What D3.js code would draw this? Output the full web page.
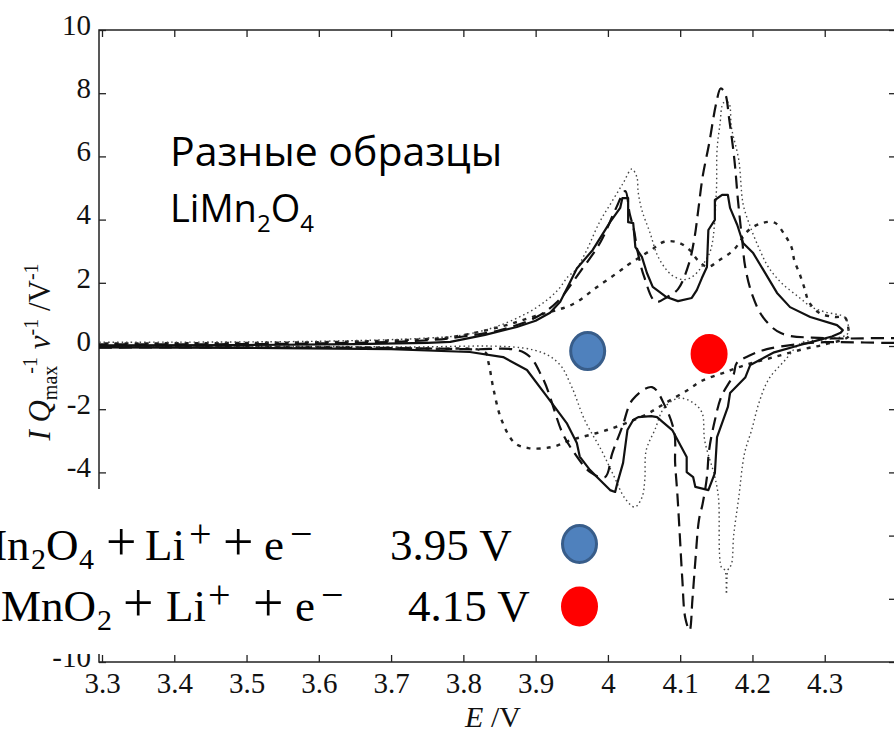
<!DOCTYPE html>
<html>
<head>
<meta charset="utf-8">
<script src="https://d3js.org/d3.v7.min.js"></script>
<style>
  body { margin: 0; background: #fff; }
  svg { display: block; }
  .tick text { font-family: "Liberation Serif", "Times New Roman", serif; font-size: 29px; fill: #111; }
  .tick line { stroke: #222; stroke-width: 1.3px; }
</style>
</head>
<body>
<script>
// tick values and labels (-6 and -8 sit under the reaction panel, so no label)
var xTicks = [3.3, 3.4, 3.5, 3.6, 3.7, 3.8, 3.9, 4.0, 4.1, 4.2, 4.3];
var xTickLabels = ["3.3", "3.4", "3.5", "3.6", "3.7", "3.8", "3.9", "4", "4.1", "4.2", "4.3"];
var yTicks = [-10, -8, -6, -4, -2, 0, 2, 4, 6, 8, 10];
var yTickLabels = ["-10", "", "", "-4", "-2", "0", "2", "4", "6", "8", "10"];

// CV loops, [E (V), I Qmax^-1 v^-1 (V^-1)], anodic branch then cathodic branch
var solid = [
  [3.29,0.02],[3.5,0.03],[3.65,0.06],[3.75,0.1],[3.782,0.13],[3.83,0.35],[3.874,0.6],[3.9,0.8],
  [3.92,1.05],[3.934,1.4],[3.945,1.9],[3.957,2.45],[3.979,3.04],[4.003,3.92],[4.017,4.37],[4.02,4.68],
  [4.028,4.68],[4.028,3.92],[4.035,3.89],[4.038,3.13],[4.047,2.82],[4.054,2.31],[4.062,1.87],[4.081,1.55],
  [4.097,1.42],[4.116,1.52],[4.123,1.77],[4.13,2.15],[4.137,2.5],[4.139,3.67],[4.148,3.99],[4.148,4.62],
  [4.158,4.78],[4.166,4.78],[4.169,4.37],[4.179,3.83],[4.187,3.26],[4.201,2.94],[4.215,2.41],[4.234,1.68],
  [4.252,1.23],[4.28,0.92],[4.317,0.66],[4.325,0.5],
  [4.322,0.42],[4.31,0.3],[4.29,0.18],[4.266,0.03],[4.23,-0.2],[4.197,-0.6],[4.19,-1.0],[4.169,-1.49],
  [4.166,-1.93],[4.151,-2.88],[4.148,-4.02],[4.139,-4.56],[4.121,-4.46],[4.118,-4.15],[4.109,-3.99],
  [4.109,-3.51],[4.089,-2.66],[4.076,-2.41],[4.068,-2.25],[4.06,-2.22],[4.042,-2.25],[4.035,-2.34],
  [4.027,-2.66],[4.021,-3.7],[4.013,-4.34],[4.01,-4.62],[4.003,-4.56],[3.989,-4.24],[3.975,-3.92],
  [3.961,-3.5],[3.957,-3.07],[3.943,-2.44],[3.916,-1.61],[3.888,-0.76],[3.855,-0.35],[3.809,-0.19],
  [3.7,-0.1],[3.5,-0.06],[3.29,-0.04]
];
var longDash = [
  [3.29,0.05],[3.6,0.08],[3.75,0.18],[3.8,0.3],[3.85,0.5],[3.9,0.9],[3.93,1.4],[3.96,2.3],[3.99,3.3],
  [4.01,4.3],[4.024,4.9],[4.03,4.2],[4.036,3.67],[4.041,3.0],[4.05,2.2],[4.066,1.4],[4.082,1.55],
  [4.097,1.8],[4.112,2.6],[4.12,3.45],[4.125,4.3],[4.131,5.35],[4.14,6.4],[4.15,7.7],[4.156,8.15],
  [4.162,8.0],[4.168,7.15],[4.175,5.9],[4.18,4.6],[4.186,3.3],[4.19,2.5],[4.2,1.6],[4.215,0.9],
  [4.24,0.4],[4.3,0.25],[4.42,0.2],
  [4.42,0.15],[4.3,0.12],[4.26,0.05],[4.22,-0.1],[4.196,-0.3],[4.178,-0.55],[4.174,-0.9],[4.157,-1.6],
  [4.148,-2.35],[4.14,-3.3],[4.137,-4.15],[4.131,-5.0],[4.126,-5.5],[4.121,-6.8],[4.117,-8.0],
  [4.113,-9.0],[4.107,-8.6],[4.103,-7.4],[4.099,-5.8],[4.096,-4.65],[4.093,-3.7],[4.092,-2.75],
  [4.079,-1.9],[4.061,-1.3],[4.034,-1.7],[4.02,-2.55],[4.006,-3.4],[3.996,-4.15],[3.976,-4.0],
  [3.951,-3.3],[3.937,-2.75],[3.909,-0.98],[3.885,-0.22],[3.8,-0.1],[3.29,-0.05]
];
var dotted = [
  [3.29,0.12],[3.6,0.15],[3.75,0.25],[3.8,0.35],[3.85,0.65],[3.9,1.2],[3.93,1.75],[3.945,2.2],
  [3.955,2.4],[3.97,3.0],[3.988,3.9],[4.005,4.55],[4.021,5.15],[4.033,5.6],[4.04,5.35],[4.042,4.85],
  [4.047,4.3],[4.058,3.6],[4.07,2.8],[4.088,2.25],[4.106,2.1],[4.12,2.25],[4.135,2.7],[4.143,3.1],
  [4.15,4.85],[4.151,6.2],[4.155,7.0],[4.16,7.7],[4.167,7.7],[4.171,6.9],[4.181,5.9],[4.187,4.5],
  [4.195,3.9],[4.209,3.1],[4.222,2.5],[4.24,2.0],[4.264,1.55],[4.282,1.23],[4.3,1.08],[4.328,0.9],
  [4.333,0.5],
  [4.33,0.35],[4.3,0.2],[4.268,0.1],[4.245,-0.45],[4.222,-1.07],[4.209,-1.8],[4.199,-2.65],
  [4.189,-3.4],[4.181,-4.8],[4.174,-6.0],[4.171,-6.9],[4.166,-7.1],[4.164,-7.85],[4.162,-7.1],
  [4.157,-7.0],[4.153,-4.8],[4.148,-4.15],[4.134,-3.0],[4.13,-2.1],[4.116,-1.77],[4.098,-1.65],
  [4.078,-1.95],[4.065,-2.65],[4.053,-3.3],[4.051,-4.25],[4.047,-4.8],[4.037,-5.1],[4.023,-4.8],
  [4.009,-4.15],[3.991,-3.3],[3.968,-2.35],[3.95,-1.3],[3.932,-0.55],[3.898,-0.13],[3.7,-0.03],[3.29,0.0]
];
var shortDash = [
  [3.29,0.08],[3.6,0.12],[3.75,0.22],[3.783,0.28],[3.85,0.6],[3.9,0.95],[3.952,1.33],[3.984,1.85],
  [4.015,2.35],[4.03,2.6],[4.06,3.04],[4.078,3.3],[4.098,3.27],[4.113,3.04],[4.125,2.7],[4.138,2.5],
  [4.153,2.7],[4.174,3.04],[4.195,3.67],[4.215,3.9],[4.231,3.9],[4.245,3.5],[4.254,3.13],[4.258,2.7],
  [4.265,2.3],[4.272,1.83],[4.278,1.4],[4.293,1.04],[4.314,0.92],[4.328,0.9],[4.333,0.5],
  [4.333,0.3],[4.3,0.05],[4.27,-0.1],[4.23,-0.35],[4.19,-0.6],[4.16,-0.85],[4.13,-1.1],[4.11,-1.4],
  [4.08,-1.8],[4.05,-2.2],[4.0,-2.65],[3.95,-2.97],[3.922,-3.2],[3.89,-3.23],[3.871,-3.07],
  [3.853,-2.35],[3.842,-1.4],[3.835,-0.55],[3.83,-0.2],[3.75,-0.08],[3.29,-0.02]
];

// marked potentials inside the plot: [E, I]
var markers = [[3.972, -0.16], [4.14, -0.25]];
var markerColors = ["#4f81bd", "#ff0000"];
var markerStrokes = ["#385d8a", "#ff0000"];

var W = 894, H = 733;
var svg = d3.select("body").append("svg").attr("width", W).attr("height", H);

var x = d3.scaleLinear().domain([3.3, 4.4]).range([102, 897]);
var y = d3.scaleLinear().domain([-10, 10]).range([662, 30]);

svg.append("clipPath").attr("id", "plot")
  .append("rect").attr("x", 99).attr("y", 30).attr("width", 797).attr("height", 632);

// frame
svg.append("rect")
  .attr("x", 99).attr("y", 30).attr("width", 797).attr("height", 632)
  .attr("fill", "none").attr("stroke", "#222").attr("stroke-width", 1.5);

var gx = svg.append("g").attr("transform", "translate(0,662)")
  .call(d3.axisBottom(x).tickValues(xTicks).tickFormat(function(d, i) { return xTickLabels[i]; })
    .tickSizeInner(-7).tickSizeOuter(0).tickPadding(10));
var gt = svg.append("g").attr("transform", "translate(0,30)")
  .call(d3.axisTop(x).tickValues(xTicks).tickFormat("").tickSizeInner(-7).tickSizeOuter(0));
var gy = svg.append("g").attr("transform", "translate(99,0)")
  .call(d3.axisLeft(y).tickValues(yTicks).tickFormat(function(d, i) { return yTickLabels[i]; })
    .tickSizeInner(-7).tickSizeOuter(0).tickPadding(8));
var gr = svg.append("g").attr("transform", "translate(896,0)")
  .call(d3.axisRight(y).tickValues(yTicks).tickFormat("").tickSizeInner(-7).tickSizeOuter(0));
svg.selectAll(".domain").remove();
gy.selectAll("text").attr("dy", "0.15em");
svg.selectAll(".tick text").filter(function() { return this.textContent === ""; }).remove();

// curves
var line = d3.line().x(function(d) { return x(d[0]); }).y(function(d) { return y(d[1]); });
var smooth = d3.line().x(function(d) { return x(d[0]); }).y(function(d) { return y(d[1]); })
  .curve(d3.curveCatmullRom.alpha(0.5));

var curves = svg.append("g").attr("clip-path", "url(#plot)").attr("fill", "none");

curves.append("path").datum(shortDash).attr("d", smooth)
  .attr("stroke", "#222").attr("stroke-width", 2.4).attr("stroke-dasharray", "4,6");
curves.append("path").datum(dotted).attr("d", smooth)
  .attr("stroke", "#444").attr("stroke-width", 1.4).attr("stroke-dasharray", "1.5,3");
curves.append("path").datum(longDash).attr("d", smooth)
  .attr("stroke", "#111").attr("stroke-width", 2.2).attr("stroke-dasharray", "13,7");
curves.append("path").datum(solid).attr("d", line)
  .attr("stroke", "#111").attr("stroke-width", 2.2).attr("stroke-linejoin", "round");

// markers at the two redox potentials
svg.selectAll("ellipse.mark").data(markers).enter().append("ellipse")
  .attr("class", "mark")
  .attr("cx", function(d) { return x(d[0]); })
  .attr("cy", function(d) { return y(d[1]); })
  .attr("rx", 17).attr("ry", 18.5)
  .attr("fill", function(d, i) { return markerColors[i]; })
  .attr("stroke", function(d, i) { return markerStrokes[i]; })
  .attr("stroke-width", 3);

// axis titles
var yl = svg.append("text")
  .attr("transform", "translate(50,352) rotate(-90)")
  .attr("text-anchor", "middle")
  .style("font-family", "Liberation Serif, serif").style("font-size", "31px").attr("fill", "#111");
yl.append("tspan").style("font-style", "italic").text("I Q");
yl.append("tspan").attr("dy", 7).style("font-size", "20px").text("max");
yl.append("tspan").attr("dy", -20).attr("dx", -8).style("font-size", "20px").text("-1");
yl.append("tspan").attr("dy", 13).style("font-style", "italic").text(" v");
yl.append("tspan").attr("dy", -12).style("font-size", "20px").text("-1");
yl.append("tspan").attr("dy", 12).text(" /V");
yl.append("tspan").attr("dy", -12).style("font-size", "20px").text("-1");

var xl = svg.append("text").attr("x", 493).attr("y", 727).attr("text-anchor", "middle")
  .style("font-family", "Liberation Serif, serif").style("font-size", "30px").attr("fill", "#111");
xl.append("tspan").style("font-style", "italic").text("E");
xl.append("tspan").text(" /V");

// sample note
var note = svg.append("text").attr("x", 170).attr("y", 166)
  .style("font-family", "Open Sans, sans-serif").style("font-size", "41px").attr("fill", "#000");
note.append("tspan").text("Разные образцы");
var note2 = svg.append("text").attr("x", 170).attr("y", 222)
  .style("font-family", "Open Sans, sans-serif").style("font-size", "38px").attr("fill", "#000");
note2.append("tspan").text("LiMn");
note2.append("tspan").attr("dy", 10).style("font-size", "24px").text("2");
note2.append("tspan").attr("dy", -10).text("O");
note2.append("tspan").attr("dy", 10).style("font-size", "24px").text("4");

// white panel with the two reactions
svg.append("rect").attr("x", 0).attr("y", 489).attr("width", 600).attr("height", 165).attr("fill", "#fff");

function reaction(base, parts, potential, px) {
  var t = svg.append("text").style("font-family", "Liberation Serif, serif").attr("fill", "#000");
  parts.forEach(function(p) {
    var ts = t.append("tspan").attr("x", p[1]).text(p[0]);
    if (p[2] === "sub") ts.attr("y", base + 9).style("font-size", "30px");
    else if (p[2] === "sup") ts.attr("y", base - 13).style("font-size", "40px");
    else if (p[2] === "op") ts.attr("y", base).style("font-size", "54px");
    else ts.attr("y", base).style("font-size", "45px");
  });
  svg.append("text").attr("x", px).attr("y", base)
    .style("font-family", "Liberation Serif, serif").style("font-size", "45px").attr("fill", "#000")
    .text(potential);
}
reaction(560, [["Mn", -33], ["2", 31, "sub"], ["O", 46], ["4", 79, "sub"], ["+", 106, "op"],
  ["Li", 145], ["+", 189, "sup"], ["+", 223, "op"], ["e", 264], ["\u2212", 290, "sup"]], "3.95 V", 390);
reaction(621, [["MnO", 1], ["2", 97, "sub"], ["+", 123, "op"],
  ["Li", 166], ["+", 208, "sup"], ["+", 253, "op"], ["e", 295], ["\u2212", 321, "sup"]], "4.15 V", 408);

var legendY = [544, 606.5];
svg.selectAll("ellipse.key").data(legendY).enter().append("ellipse")
  .attr("class", "key")
  .attr("cx", 579.5).attr("cy", function(d) { return d; })
  .attr("rx", 17).attr("ry", 18.5)
  .attr("fill", function(d, i) { return markerColors[i]; })
  .attr("stroke", function(d, i) { return markerStrokes[i]; })
  .attr("stroke-width", 3);
</script>
</body>
</html>
